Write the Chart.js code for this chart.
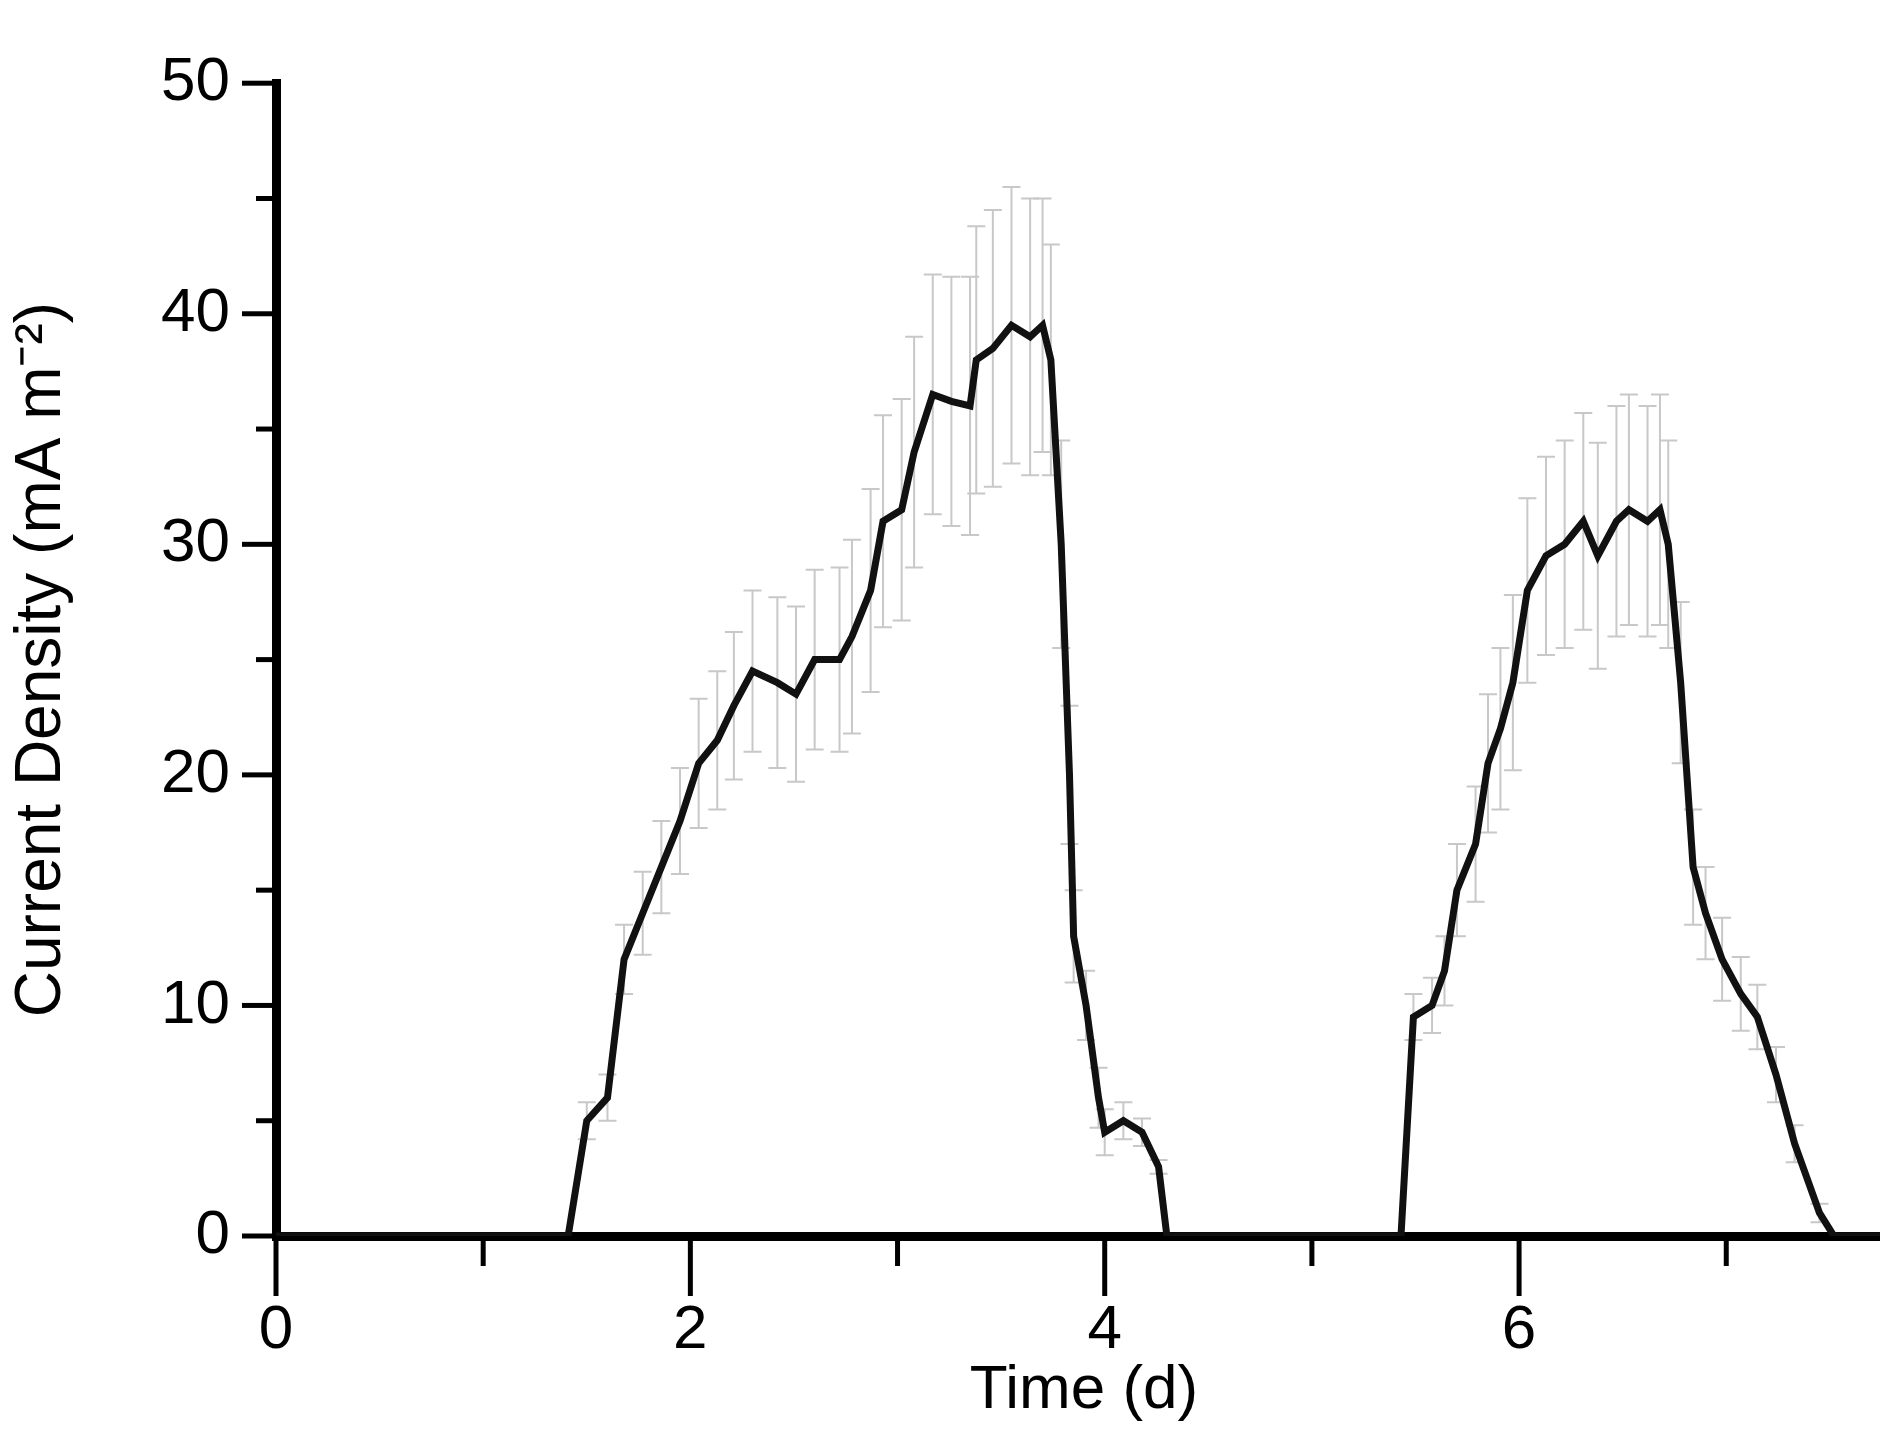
<!DOCTYPE html>
<html><head><meta charset="utf-8">
<script src="https://cdn.jsdelivr.net/npm/chart.js@4"></script>
<style>html,body{margin:0;padding:0;background:#fff;overflow:hidden}#w{width:1950px;height:1432px}</style>
</head><body><div id="w"><canvas id="c"></canvas></div>
<script>
const timeDays = [0,1.40,1.41,1.50,1.60,1.68,1.77,1.86,1.95,2.04,2.13,2.21,2.30,2.42,2.51,2.60,2.72,2.78,2.87,2.93,3.02,3.08,3.17,3.26,3.35,3.38,3.46,3.55,3.64,3.70,3.74,3.79,3.83,3.85,3.91,3.97,4.00,4.09,4.18,4.26,4.30,5.42,5.43,5.49,5.58,5.64,5.70,5.79,5.85,5.91,5.97,6.04,6.13,6.22,6.31,6.38,6.47,6.53,6.62,6.68,6.72,6.78,6.84,6.90,6.98,7.07,7.15,7.24,7.33,7.45,7.52,7.8];
const currentDensity = [0,0,0,5,6,12,14,16,18,20.5,21.5,23,24.5,24,23.5,25,25,26,28,31,31.5,34,36.5,36.2,36,38,38.5,39.5,39,39.5,38,30,20,13,10,6,4.5,5,4.5,3,0,0,0,9.5,10,11.5,15,17,20.5,22,24,28,29.5,30,31,29.5,31,31.5,31,31.5,30,24,16,14,12,10.5,9.5,7,4,1,0,0];
const errorBar = [0,0,0,0.8,1,1.5,1.8,2,2.3,2.8,3,3.2,3.5,3.7,3.8,3.9,4,4.2,4.4,4.6,4.8,5,5.2,5.4,5.6,5.8,6,6,6,5.5,5,4.5,3,2,1.5,1.3,1,0.8,0.6,0.3,0,0,0,1,1.2,1.5,2,2.5,3,3.5,3.8,4,4.3,4.5,4.7,4.9,5,5,5,5,4.5,3.5,2.5,2,1.8,1.6,1.4,1.2,0.8,0.4,0,0];
const xTickLabels = {0:'0',2:'2',4:'4',6:'6'};
const yTickLabels = {0:'0',10:'10',20:'20',30:'30',40:'40',50:'50'};

const errPlugin = {id:'err', beforeDatasetsDraw(ch){
  const {ctx, scales:{x,y}} = ch; ctx.save(); ctx.strokeStyle='#c8c8c8'; ctx.lineWidth=2;
  timeDays.forEach((t,i)=>{ const e=errorBar[i]; if(!e) return;
    const px=x.getPixelForValue(t), a=y.getPixelForValue(currentDensity[i]+e), b=y.getPixelForValue(currentDensity[i]-e);
    ctx.beginPath(); ctx.moveTo(px,a); ctx.lineTo(px,b); ctx.moveTo(px-9,a); ctx.lineTo(px+9,a); ctx.moveTo(px-9,b); ctx.lineTo(px+9,b); ctx.stroke(); });
  ctx.restore(); }};
const tickPlugin = {id:'ticks2', afterDraw(ch){
  const {ctx, scales:{x,y}} = ch; ctx.save(); ctx.strokeStyle='#000'; ctx.lineWidth=5;
  for(let v=0; v<=7; v++){ const px=x.getPixelForValue(v), y0=y.getPixelForValue(0); const L = v%2===0?60:30;
    ctx.beginPath(); ctx.moveTo(px,y0); ctx.lineTo(px,y0+L); ctx.stroke(); }
  for(let v=0; v<=50; v+=5){ const py=y.getPixelForValue(v), x0=x.left-4; const L = v%10===0?30:16;
    ctx.beginPath(); ctx.moveTo(x0,py); ctx.lineTo(x0-L,py); ctx.stroke(); }
  ctx.restore(); }};

new Chart(document.getElementById('c'), {
  type:'line',
  data:{datasets:[{data:timeDays.map((t,i)=>({x:t,y:currentDensity[i]})), borderColor:'#111', borderWidth:7, pointRadius:0, tension:0}]},
  options:{responsive:true, maintainAspectRatio:false, animation:false,
    layout:{padding:{top:38,right:0,left:0,bottom:0}},
    plugins:{legend:{display:false}, tooltip:{enabled:false}},
    scales:{
      x:{type:'linear', min:0, max:7.8, grid:{display:false, drawTicks:false}, border:{color:'#000', width:9},
        afterFit(s){s.height=196;},
        ticks:{stepSize:1, padding:58, color:'#000', font:{family:'Liberation Sans, Arial', size:62}, callback:v=>xTickLabels[v]??'', maxRotation:0, autoSkip:false},
        title:{display:true, text:'Time (d)', color:'#000', font:{family:'Liberation Sans, Arial', size:62}, padding:{top:0}}},
      y:{min:0, max:50, grid:{display:false, drawTicks:false}, border:{color:'#000', width:9},
        afterFit(s){s.width=276;},
        ticks:{stepSize:5, padding:46, color:'#000', font:{family:'Liberation Sans, Arial', size:62}, callback:v=>yTickLabels[v]??'', autoSkip:false},
        title:{display:true, text:'Current Density (mA m⁻²)', color:'#000', font:{family:'Liberation Sans, Arial', size:64}, padding:{bottom:0}}}
    }},
  plugins:[errPlugin, tickPlugin]
});
</script></body></html>
